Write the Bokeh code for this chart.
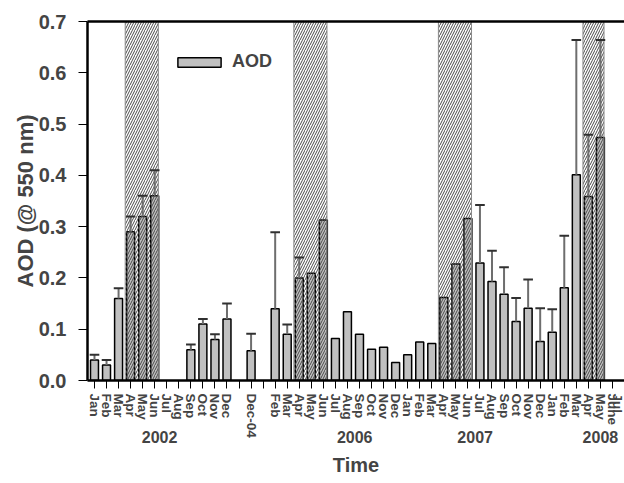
import math
from bokeh.plotting import figure
from bokeh.models import (Range1d, FixedTicker, LinearAxis, Legend, LegendItem,
                          PrintfTickFormatter)
from bokeh.embed import file_html
from bokeh.resources import INLINE

nan = float("nan")

# ---- data -------------------------------------------------------------
month_labels = ["Jan", "Feb", "Mar", "Apr", "May", "Jun", "Jul", "Aug", "Sep", "Oct", "Nov", "Dec",
                "", "Dec-04", "",
                "Feb", "Mar", "Apr", "May", "Jun", "Jul", "Aug", "Sep", "Oct", "Nov", "Dec",
                "Jan", "Feb", "Mar", "Apr", "May", "Jun", "Jul", "Aug", "Sep", "Oct", "Nov", "Dec",
                "Jan", "Feb", "Mar", "Apr", "May", "June", "Jul"]

aod = [0.040, 0.030, 0.160, 0.290, 0.320, 0.360, nan, nan, 0.060, 0.110, 0.080, 0.120,
       nan, 0.058, nan,
       0.140, 0.090, 0.200, 0.209, 0.313, 0.082, 0.134, 0.090, 0.061, 0.065, 0.035,
       0.050, 0.075, 0.072, 0.162, 0.227, 0.316, 0.229, 0.193, 0.168, 0.115, 0.141, 0.076,
       0.094, 0.181, 0.401, 0.359, 0.474, nan, nan]

aod_err = [0.010, 0.010, 0.020, 0.030, 0.040, 0.050, nan, nan, 0.010, 0.010, 0.010, 0.030,
           nan, 0.033, nan,
           0.149, 0.019, 0.040, nan, nan, nan, nan, nan, nan, nan, nan,
           nan, nan, nan, nan, nan, nan, 0.113, 0.060, 0.053, 0.046, 0.056, 0.065,
           0.045, 0.101, 0.263, 0.120, 0.190, nan, nan]

# shaded (hatched) periods: first and last month index
seasons = [(3, 5), (17, 19), (29, 31), (41, 42)]

year_labels = ["2002", "2006", "2007", "2008"]

# ---- figure -----------------------------------------------------------
FONT = "Liberation Sans"

p = figure(width=624, height=483, output_backend="svg", toolbar_location=None,
           x_range=Range1d(-0.58, 44.0), y_range=Range1d(0, 0.7),
           min_border_left=87, min_border_right=0, min_border_top=21, min_border_bottom=103)
p.outline_line_color = None
p.grid.visible = False
p.background_fill_color = "white"
p.border_fill_color = "white"

idx = list(range(len(month_labels)))

bx = [i for i in idx if not math.isnan(aod[i])]
by = [aod[i] for i in bx]
bars = p.vbar(x=bx, top=by, width=0.66, bottom=0, fill_color="#c0c0c0",
              line_color="black", line_width=1.5)

# hatched periods
p.quad(left=[a - 0.45 for a, b in seasons], right=[b + 0.3 for a, b in seasons],
       bottom=0, top=0.7, fill_alpha=0, hatch_pattern="/", hatch_color="#4a4a4a",
       hatch_scale=5, hatch_weight=1, line_color="#8a8a8a", line_width=1)

# error bars (upper only)
ex = [i for i in idx if not math.isnan(aod_err[i]) and not math.isnan(aod[i])]
ey0 = [aod[i] for i in ex]
ey1 = [aod[i] + aod_err[i] for i in ex]
p.segment(x0=ex, y0=ey0, x1=ex, y1=ey1, line_color="#6e6e6e", line_width=2)
p.segment(x0=[x - 0.4 for x in ex], y0=ey1, x1=[x + 0.4 for x in ex], y1=ey1,
          line_color="#303030", line_width=2)

# y axis
yax = p.yaxis[0]
yax.ticker = FixedTicker(ticks=[0, 0.1, 0.2, 0.3, 0.4, 0.5, 0.6, 0.7])
yax.formatter = PrintfTickFormatter(format="%.1f")
yax.major_label_text_font = FONT
yax.major_label_text_font_style = "bold"
yax.major_label_text_font_size = "20px"
yax.major_label_standoff = 12
yax.axis_label = "AOD (@ 550 nm)"
yax.axis_label_text_font = FONT
yax.axis_label_text_font_style = "bold"
yax.axis_label_text_font_size = "22px"
yax.axis_label_standoff = -2
yax.axis_line_width = 2.5
yax.major_tick_out = 9
yax.major_tick_in = 0
yax.minor_tick_out = 0
yax.minor_tick_in = 0

# x axis (months)
xax = p.xaxis[0]
xax.ticker = FixedTicker(ticks=idx)
xax.major_label_overrides = {i: lab for i, lab in enumerate(month_labels)}
xax.major_label_orientation = "vertical"
xax.major_label_text_font = FONT
xax.major_label_text_font_style = "bold"
xax.major_label_text_font_size = "13.5px"
xax.major_label_standoff = 5
xax.axis_line_width = 2.5
xax.major_tick_out = 8
xax.major_tick_in = 0
xax.minor_tick_out = 0
xax.minor_tick_in = 0

# second bottom axis: years + axis title
year_x = [5.4, 21.6, 31.6, 42.0]
yr = LinearAxis(ticker=FixedTicker(ticks=year_x),
                major_label_overrides={x: t for x, t in zip(year_x, year_labels)},
                axis_line_color=None, major_tick_out=0, major_tick_in=0,
                minor_tick_out=0, minor_tick_in=0, major_label_standoff=-10,
                major_label_text_font=FONT, major_label_text_font_style="bold",
                major_label_text_font_size="16px",
                axis_label="Time", axis_label_text_font=FONT,
                axis_label_text_font_style="bold", axis_label_text_font_size="20px",
                axis_label_standoff=8)
p.add_layout(yr, "below")

# top frame line
top = LinearAxis(ticker=FixedTicker(ticks=[]), axis_line_width=2.5, major_tick_out=0,
                 major_tick_in=0, minor_tick_out=0, minor_tick_in=0,
                 major_label_text_font_size="0px")
p.add_layout(top, "above")

legend = Legend(items=[LegendItem(label="AOD", renderers=[bars])], location=(85, 308),
                padding=0, margin=0, border_line_color=None, background_fill_alpha=0,
                glyph_width=54, glyph_height=12, label_standoff=6,
                label_text_font=FONT, label_text_font_style="bold", label_text_font_size="18px")
p.add_layout(legend)

open("out.html", "w").write(file_html(p, INLINE))
